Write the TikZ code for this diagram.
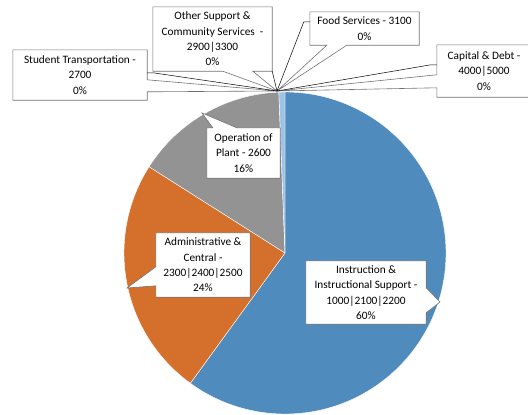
\documentclass[tikz,border=0pt]{standalone}
\usepackage{fontspec}
\setmainfont{Carlito}
\usetikzlibrary{backgrounds}

\definecolor{pieBlue}{RGB}{80,139,190}
\definecolor{pieOrange}{RGB}{213,112,44}
\definecolor{pieGray}{RGB}{147,147,147}
\definecolor{pieLight}{RGB}{157,195,230}
\newcommand{\lblfont}{\fontsize{11.3}{15.3}\selectfont}

\begin{document}
\begin{tikzpicture}[
    x=1pt, y=-1pt,
    lbl/.style={inner sep=0pt, align=center, font=\lblfont, text=black},
    box/.style={draw=black!55, fill=white, line width=0.6pt},
    leader/.style={black, line width=0.5pt},
    slice/.style={draw=white, line width=0.4pt}]
    \useasboundingbox (0,0) rectangle (528,415);

    % Spitzen
    \coordinate (P) at (277,91);
    \coordinate (opTip) at (202,113);
    \coordinate (admTip) at (127,288);
    \coordinate (insTip) at (440,302);

    % Beschriftungen
    \node[lbl, minimum width=134pt, minimum height=50pt] (stu) at (80,75)
        {Student Transportation -\\2700\\0\%};
    \node[lbl, minimum width=119pt, minimum height=64pt] (oth) at (212.5,39)
        {Other Support \&\\Community Services \ -\\2900|3300\\0\%};
    \node[lbl, minimum width=109pt, minimum height=33pt] (food) at (364.5,28.5)
        {Food Services - 3100\\0\%};
    \node[lbl, minimum width=94pt, minimum height=52pt] (cap) at (484,71)
        {Capital \& Debt -\\4000|5000\\0\%};
    \node[lbl, minimum width=73pt, minimum height=50pt] (op) at (243.5,153)
        {Operation of\\Plant - 2600\\16\%};
    \node[lbl, minimum width=94pt, minimum height=64pt] (adm) at (203,265)
        {Administrative \&\\Central -\\2300|2400|2500\\24\%};
    \node[lbl, minimum width=120pt, minimum height=63pt] (ins) at (366,292.5)
        {Instruction \&\\Instructional Support -\\1000|2100|2200\\60\%};

    \begin{scope}[on background layer]
        % Kreis
        \begin{scope}[x=1pt, y=1pt, shift={(285pt,-253pt)}]
            \filldraw[slice, fill=pieBlue] (0,0) -- (90:161) arc[start angle=90, end angle=-126, radius=161] -- cycle;
            \filldraw[slice, fill=pieOrange] (0,0) -- (-126:161) arc[start angle=-126, end angle=-212.4, radius=161] -- cycle;
            \filldraw[slice, fill=pieGray] (0,0) -- (147.6:161) arc[start angle=147.6, end angle=92.2, radius=161] -- cycle;
            \filldraw[slice, fill=pieLight] (0,0) -- (92.2:161) arc[start angle=92.2, end angle=90, radius=161] -- cycle;
        \end{scope}

        % Kaesten
        \filldraw[box] (stu.north west) -- (stu.north east) -- ([yshift=-30pt]stu.north east) -- (P)
                       -- ([yshift=-42pt]stu.north east) -- (stu.south east) -- (stu.south west) -- cycle;
        \filldraw[box] (oth.north west) -- (oth.north east) -- (oth.south east) -- ([xshift=100pt]oth.south west)
                       -- (P) -- ([xshift=70pt]oth.south west) -- (oth.south west) -- cycle;
        \filldraw[box] (food.north west) -- (food.north east) -- (food.south east) -- ([xshift=37pt]food.south west)
                       -- (P) -- ([xshift=17pt]food.south west) -- (food.south west) -- cycle;
        \filldraw[box] (cap.north west) -- (cap.north east) -- (cap.south east) -- (cap.south west)
                       -- ([yshift=-43pt]cap.north west) -- (P) -- ([yshift=-30pt]cap.north west) -- cycle;
        \filldraw[box] (op.north west) -- ([xshift=6pt]op.north west) -- (opTip) -- ([xshift=30pt]op.north west)
                       -- (op.north east) -- (op.south east) -- (op.south west) -- cycle;
        \filldraw[box] (adm.north west) -- (adm.north east) -- (adm.south east) -- (adm.south west)
                       -- ([yshift=-53pt]adm.north west) -- (admTip) -- ([yshift=-34pt]adm.north west) -- cycle;
        \filldraw[box] (ins.north west) -- (ins.north east) -- ([yshift=-27pt]ins.north east) -- (insTip)
                       -- ([yshift=-52pt]ins.north east) -- (ins.south east) -- (ins.south west) -- cycle;
    \end{scope}

    % Fuehrungslinien
    \draw[leader] ([yshift=-23pt]stu.north east) -- ++(6,0) -- (P);
    \draw[leader] (oth.south east) -- (P);
    \draw[leader] ([yshift=-10pt]food.north west) -- ++(-6,0) -- (P);
    \draw[leader] ([yshift=-20pt]cap.north west) -- ++(-6,0) -- (P);
\end{tikzpicture}
\end{document}
